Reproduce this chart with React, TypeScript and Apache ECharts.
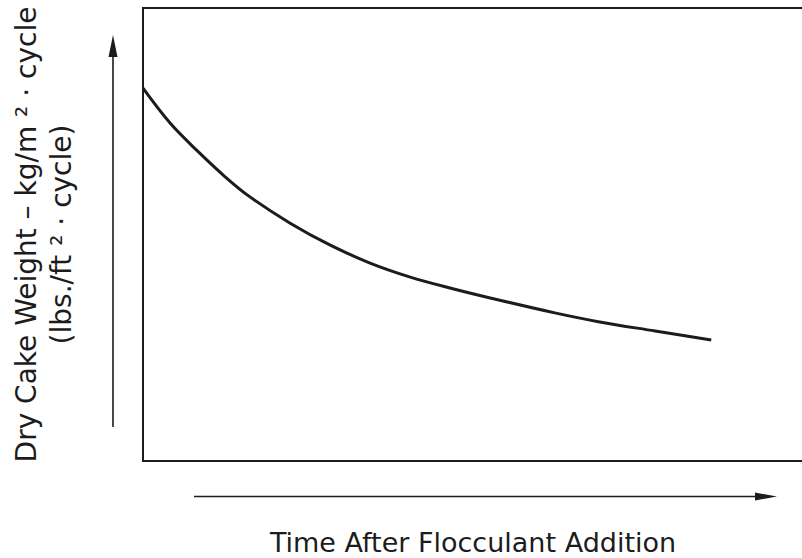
import React, { useEffect, useRef } from "react";
import * as echarts from "echarts";

const times = [0, 4.1, 8.2, 12.4, 16.2, 22.3, 28.3, 34.4, 40.5, 46.5, 52.6, 62.4, 69.2, 77.6, 86.1];
const weights = [82.3, 74.6, 68.5, 62.8, 58.3, 52.5, 47.7, 43.7, 40.6, 38.2, 36.0, 32.7, 30.7, 28.7, 26.7];
const xTitle = "Time After Flocculant Addition";
const yTitle = ["Dry Cake Weight \u2013 kg/m \u00B2 \u00B7 cycle", "(lbs./ft \u00B2 \u00B7 cycle)"];

const INK = "#1c1c1c";

export default function App() {
  const ref = useRef<HTMLDivElement>(null);
  useEffect(() => {
    if (!ref.current) return;
    const chart = echarts.init(ref.current, undefined, { renderer: "svg" });
    const data = times.map((t, i) => [t, weights[i]]);
    chart.setOption({
      animation: false,
      backgroundColor: "#ffffff",
      grid: {
        left: 143,
        top: 8,
        width: 660,
        bottom: 97,
        show: true,
        outerBoundsMode: "none",
        containLabel: false,
        borderColor: INK,
        borderWidth: 2,
        backgroundColor: "transparent",
      },
      xAxis: {
        type: "value",
        min: 0,
        max: 100,
        axisLine: { show: false },
        axisTick: { show: false },
        axisLabel: { show: false },
        splitLine: { show: false },
        name: xTitle,
        nameLocation: "middle",
        nameGap: 68,
        nameTextStyle: {
          fontFamily: "DejaVu Sans",
          fontSize: 27,
          color: INK,
        },
      },
      yAxis: {
        type: "value",
        min: 0,
        max: 100,
        axisLine: { show: false },
        axisTick: { show: false },
        axisLabel: { show: false },
        splitLine: { show: false },
        name: yTitle.join("\n"),
        nameLocation: "middle",
        nameRotate: 90,
        nameGap: 64,
        nameTextStyle: {
          fontFamily: "DejaVu Sans",
          fontSize: 28,
          lineHeight: 35,
          color: INK,
          align: "center",
        },
      },
      graphic: [
        {
          type: "line",
          shape: { x1: 113, y1: 427, x2: 113, y2: 52 },
          style: { stroke: INK, lineWidth: 1.6 },
        },
        {
          type: "polygon",
          shape: { points: [[113, 35], [108.5, 57], [117.5, 57]] },
          style: { fill: INK },
        },
        {
          type: "line",
          shape: { x1: 194, y1: 496.5, x2: 760, y2: 496.5 },
          style: { stroke: INK, lineWidth: 1.6 },
        },
        {
          type: "polygon",
          shape: { points: [[777, 496.5], [755, 492.5], [755, 500.5]] },
          style: { fill: INK },
        },
      ],
      series: [
        {
          type: "line",
          data,
          smooth: 0.35,
          showSymbol: false,
          lineStyle: { color: INK, width: 3 },
        },
      ],
    });
    return () => chart.dispose();
  }, []);
  return (
    <div
      ref={ref}
      style={{ position: "fixed", left: 0, top: 0, width: 802, height: 558 }}
    />
  );
}
